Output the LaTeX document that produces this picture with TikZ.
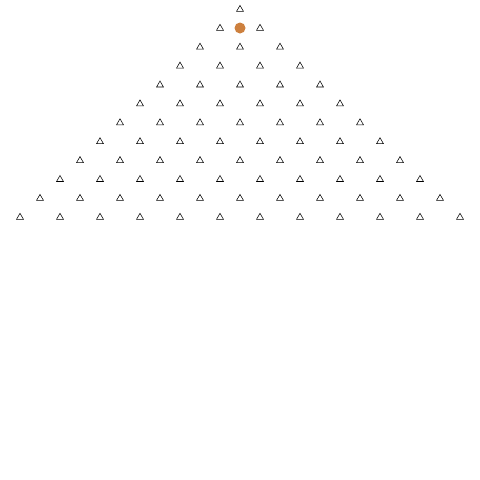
\documentclass[tikz,border=0pt]{standalone}
\usetikzlibrary{shapes.geometric}
\definecolor{marker}{RGB}{205,128,62}
\tikzset{
  lattice/.style={regular polygon,regular polygon sides=3,draw=black,line width=0.55pt,
    minimum size=8pt,inner sep=0pt},
  walker/.style={circle,fill=marker,minimum size=11pt,inner sep=0pt}
}
\begin{document}
\begin{tikzpicture}[x=1pt,y=-1pt]
\useasboundingbox (0,0) rectangle (480,480);
\foreach \k in {0,...,11}{
  \foreach \j in {0,...,\k}{
    \node[lattice] (p-\k-\j) at ({240-20*\k+40*\j},{9.4+18.9*\k}) {};
  }
}
\node[walker] (w) at (240,28) {};
\end{tikzpicture}
\end{document}
